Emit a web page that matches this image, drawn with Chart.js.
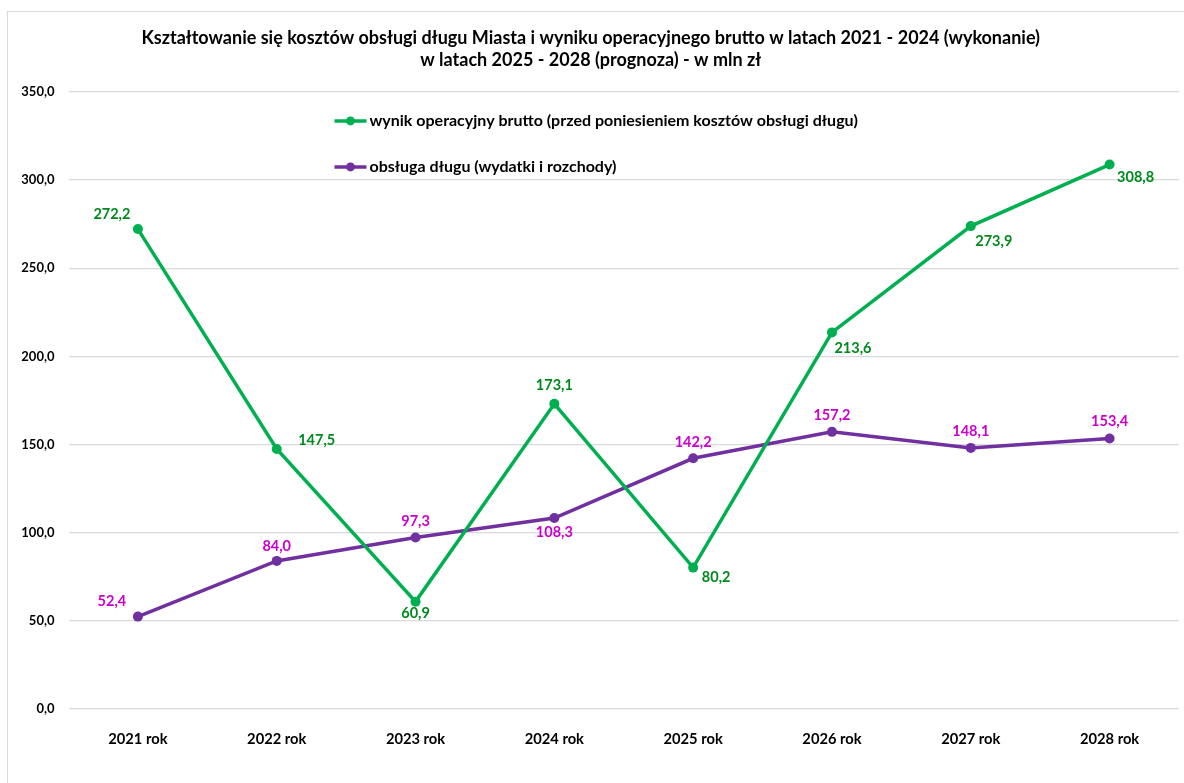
<!DOCTYPE html>
<html>
<head>
<meta charset="utf-8">
<script src="https://cdn.jsdelivr.net/npm/chart.js@4.4.1/dist/chart.umd.min.js"></script>
<style>
  html, body { margin: 0; padding: 0; background: #fff; }
  #wrap { position: relative; width: 1184px; height: 783px; }
  #frame { position: absolute; left: 7px; top: 11px; right: -5px; bottom: -5px;
           border-left: 1.5px solid #d9d9d9; border-top: 1.5px solid #d9d9d9; pointer-events: none; }
</style>
</head>
<body>
<div id="wrap">
  <canvas id="chart" width="1184" height="783"></canvas>
  <div id="frame"></div>
</div>
<script>
// Data
const years = ["2021 rok", "2022 rok", "2023 rok", "2024 rok", "2025 rok", "2026 rok", "2027 rok", "2028 rok"];
const wynikOperacyjny = [272.2, 147.5, 60.9, 173.1, 80.2, 213.6, 273.9, 308.8];
const obslugaDlugu = [52.4, 84.0, 97.3, 108.3, 142.2, 157.2, 148.1, 153.4];
const yTicks = { min: 0, max: 350, step: 50 };

// label offsets from point (px)
const wynikLabelOffsets = [[-26, -15], [40, -9], [0, 12], [0, -18], [23, 10], [21, 16], [23, 15], [26, 13]];
const obslugaLabelOffsets = [[-26, -15], [0, -15], [0, -16], [0, 14], [0, -16], [0, -17], [0, -17], [0, -17]];

const FONT = "Lato, 'Liberation Sans', sans-serif";
const fmt = v => v.toFixed(1).replace(".", ",");

// value labels
const valueLabels = {
  id: "valueLabels",
  afterDatasetsDraw(chart) {
    const ctx = chart.ctx;
    ctx.save();
    ctx.font = "bold 14.5px " + FONT;
    ctx.textAlign = "center";
    ctx.textBaseline = "middle";
    chart.data.datasets.forEach((ds, di) => {
      const meta = chart.getDatasetMeta(di);
      ctx.fillStyle = ds.labelColor;
      meta.data.forEach((pt, i) => {
        const off = ds.labelOffsets[i];
        ctx.fillText(fmt(ds.data[i]), pt.x + off[0], pt.y + off[1]);
      });
    });
    ctx.restore();
  }
};

// legend inside the plot area
const innerLegend = {
  id: "innerLegend",
  afterDraw(chart) {
    const ctx = chart.ctx;
    const a = chart.chartArea;
    const x0 = a.left + 266;
    const rows = [a.top + 29, a.top + 75];
    ctx.save();
    chart.data.datasets.forEach((ds, di) => {
      const y = rows[di];
      ctx.strokeStyle = ds.borderColor;
      ctx.lineWidth = 3.5;
      ctx.beginPath();
      ctx.moveTo(x0, y);
      ctx.lineTo(x0 + 32, y);
      ctx.stroke();
      ctx.fillStyle = ds.borderColor;
      ctx.beginPath();
      ctx.arc(x0 + 16, y, 4.5, 0, Math.PI * 2);
      ctx.fill();
      ctx.fillStyle = "#000";
      ctx.font = "bold 16px " + FONT;
      ctx.textAlign = "left";
      ctx.textBaseline = "middle";
      ctx.fillText(ds.label, x0 + 35, y);
    });
    ctx.restore();
  }
};

new Chart(document.getElementById("chart").getContext("2d"), {
  type: "line",
  data: {
    labels: years,
    datasets: [
      {
        label: "wynik operacyjny brutto (przed poniesieniem kosztów obsługi długu)",
        data: wynikOperacyjny,
        borderColor: "#00B050",
        backgroundColor: "#00B050",
        borderWidth: 3.5,
        pointRadius: 5,
        pointBorderWidth: 0,
        labelColor: "#008A1E",
        labelOffsets: wynikLabelOffsets,
      },
      {
        label: "obsługa długu (wydatki i rozchody)",
        data: obslugaDlugu,
        borderColor: "#7030A0",
        backgroundColor: "#7030A0",
        borderWidth: 3.5,
        pointRadius: 5,
        pointBorderWidth: 0,
        labelColor: "#CC00CC",
        labelOffsets: obslugaLabelOffsets,
      },
    ],
  },
  options: {
    responsive: false,
    animation: false,
    layout: { padding: { left: 0, right: 2.5, top: 0, bottom: 0 } },
    plugins: {
      legend: { display: false },
      tooltip: { enabled: false },
      title: {
        display: true,
        text: [
          "Kształtowanie się kosztów obsługi długu Miasta i wyniku operacyjnego brutto w latach 2021 - 2024 (wykonanie)",
          "w latach 2025 - 2028 (prognoza) - w mln zł",
        ],
        color: "#000",
        font: { family: FONT, size: 18, weight: "bold", lineHeight: 1.22 },
        padding: { top: 27, bottom: 21 },
      },
    },
    scales: {
      x: {
        offset: true,
        grid: { display: false },
        border: { display: false },
        ticks: { color: "#000", font: { family: FONT, size: 14.7, weight: "bold" }, padding: 13, maxRotation: 0 },
        afterFit: s => { s.height = 74; },
      },
      y: {
        min: yTicks.min,
        max: yTicks.max,
        grid: { color: "#d9d9d9", lineWidth: 1.3, drawTicks: false },
        border: { display: false },
        ticks: {
          stepSize: yTicks.step,
          color: "#000",
          padding: 14,
          font: { family: FONT, size: 13, weight: "bold" },
          callback: v => fmt(v),
        },
        afterFit: s => { s.width = 68.5; },
      },
    },
  },
  plugins: [valueLabels, innerLegend],
});
</script>
</body>
</html>
